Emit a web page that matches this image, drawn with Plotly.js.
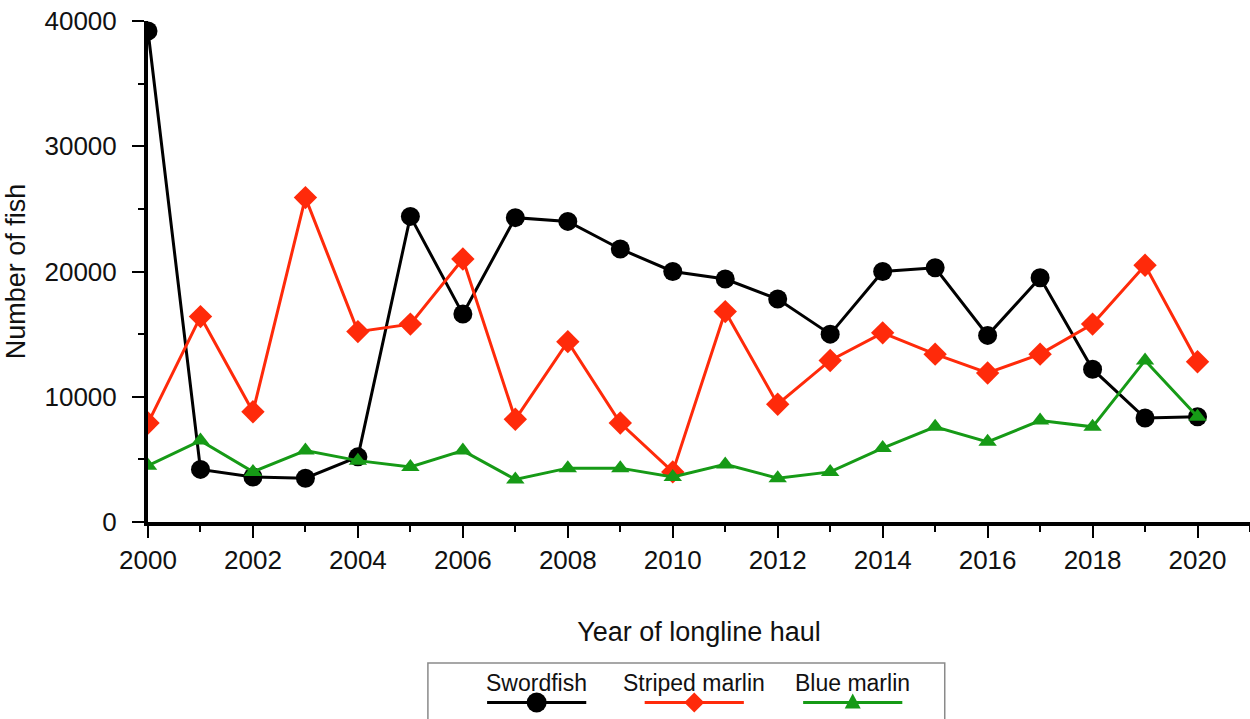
<!DOCTYPE html>
<html>
<head>
<meta charset="utf-8">
<script src="https://cdn.plot.ly/plotly-3.0.1.min.js"></script>
<style>
html,body{margin:0;padding:0;background:#fff;}
#chart{width:1250px;height:719px;}
</style>
</head>
<body>
<div id="chart"></div>
<script>
// ---- data ----
const years = [2000,2001,2002,2003,2004,2005,2006,2007,2008,2009,2010,2011,2012,2013,2014,2015,2016,2017,2018,2019,2020];
const swordfish = [39200,4200,3600,3500,5200,24400,16600,24300,24000,21800,20000,19400,17800,15000,20000,20300,14900,19500,12200,8300,8400];
const stripedMarlin = [7900,16400,8800,25900,15200,15800,21000,8200,14400,7900,4000,16800,9400,12900,15100,13400,11900,13400,15800,20500,12800];
const blueMarlin = [4500,6500,4000,5700,4900,4400,5700,3400,4300,4300,3600,4600,3500,4000,5900,7600,6400,8100,7600,12900,8400];
const seriesNames = ['Swordfish','Striped marlin','Blue marlin'];
const xTitle = 'Year of longline haul';
const yTitle = 'Number of fish';

// ---- styles ----
const colors = ['#000000','#ff2a0a','#169a16'];
const symbols = ['circle','diamond','triangle-up'];
const sizes = [19,18,16];
const FONT = 'Liberation Sans, Arial, Helvetica, sans-serif';

const seriesData = [swordfish, stripedMarlin, blueMarlin];
const traces = seriesData.map((vals, i) => ({
  type: 'scatter', mode: 'lines+markers',
  x: years, y: vals, name: seriesNames[i],
  line: {color: colors[i], width: 3},
  marker: {color: colors[i], symbol: symbols[i], size: sizes[i], line: {width: 0}},
  cliponaxis: true
}));

// ---- custom legend (text above sample) ----
const legendCenters = [0.3527, 0.4957, 0.6395];
const legendHalf = 0.045;
const legTextY = -0.3214;
const legLineY = -0.3603;
const shapes = [{
  type: 'rect', xref: 'paper', yref: 'paper',
  x0: 0.254, x1: 0.723, y0: -0.2814, y1: -0.45,
  line: {color: '#8a8a8a', width: 1.5}, fillcolor: 'rgba(0,0,0,0)'
}];
const annotations = [];
seriesNames.forEach((nm, i) => {
  shapes.push({type: 'line', xref: 'paper', yref: 'paper',
    x0: legendCenters[i] - legendHalf, x1: legendCenters[i] + legendHalf,
    y0: legLineY, y1: legLineY, line: {color: colors[i], width: 3}});
  let mk;
  if (i === 0) {
    mk = {type: 'circle', xsizemode: 'pixel', ysizemode: 'pixel',
      xanchor: legendCenters[i], yanchor: legLineY, x0: -10, x1: 10, y0: -10, y1: 10};
  } else if (i === 1) {
    mk = {type: 'path', xsizemode: 'pixel', ysizemode: 'pixel',
      xanchor: legendCenters[i], yanchor: legLineY, path: 'M -10 0 L 0 10 L 10 0 L 0 -10 Z'};
  } else {
    mk = {type: 'path', xsizemode: 'pixel', ysizemode: 'pixel',
      xanchor: legendCenters[i], yanchor: legLineY, path: 'M -8 -6 L 8 -6 L 0 9 Z'};
  }
  Object.assign(mk, {xref: 'paper', yref: 'paper', fillcolor: colors[i], line: {color: colors[i], width: 0}});
  shapes.push(mk);
  annotations.push({xref: 'paper', yref: 'paper', x: legendCenters[i], y: legTextY,
    xanchor: 'center', yanchor: 'middle', showarrow: false, text: nm,
    font: {family: FONT, size: 23, color: '#111'}});
});

const layout = {
  width: 1250, height: 719,
  margin: {l: 148, r: 0, t: 21, b: 197, pad: 0},
  paper_bgcolor: '#fff', plot_bgcolor: '#fff',
  showlegend: false,
  font: {family: FONT, color: '#111'},
  xaxis: {
    range: [2000, 2021], tick0: 2000, dtick: 2, tickformat: 'd',
    ticks: 'outside', ticklen: 12, tickwidth: 2, tickcolor: '#000',
    minor: {dtick: 1, ticks: 'outside', ticklen: 6, tickwidth: 2, tickcolor: '#000', showgrid: false},
    showline: true, linecolor: '#000', linewidth: 4, showgrid: false, zeroline: false,
    tickfont: {family: FONT, size: 26, color: '#111'},
    title: {text: xTitle, font: {family: FONT, size: 27, color: '#111'}, standoff: 49},
    automargin: false, fixedrange: true
  },
  yaxis: {
    range: [0, 40000], tick0: 0, dtick: 10000, tickformat: 'd',
    ticks: 'outside', ticklen: 12, tickwidth: 2, tickcolor: '#000',
    minor: {dtick: 5000, ticks: 'outside', ticklen: 6, tickwidth: 2, tickcolor: '#000', showgrid: false},
    showline: true, linecolor: '#000', linewidth: 4, showgrid: false, zeroline: false,
    tickfont: {family: FONT, size: 26, color: '#111'},
    ticklabelstandoff: 10,
    title: {text: yTitle, font: {family: FONT, size: 27, color: '#111'}, standoff: 12},
    automargin: false, fixedrange: true
  },
  shapes: shapes,
  annotations: annotations
};

Plotly.newPlot('chart', traces, layout, {displayModeBar: false, staticPlot: true});
</script>
</body>
</html>
